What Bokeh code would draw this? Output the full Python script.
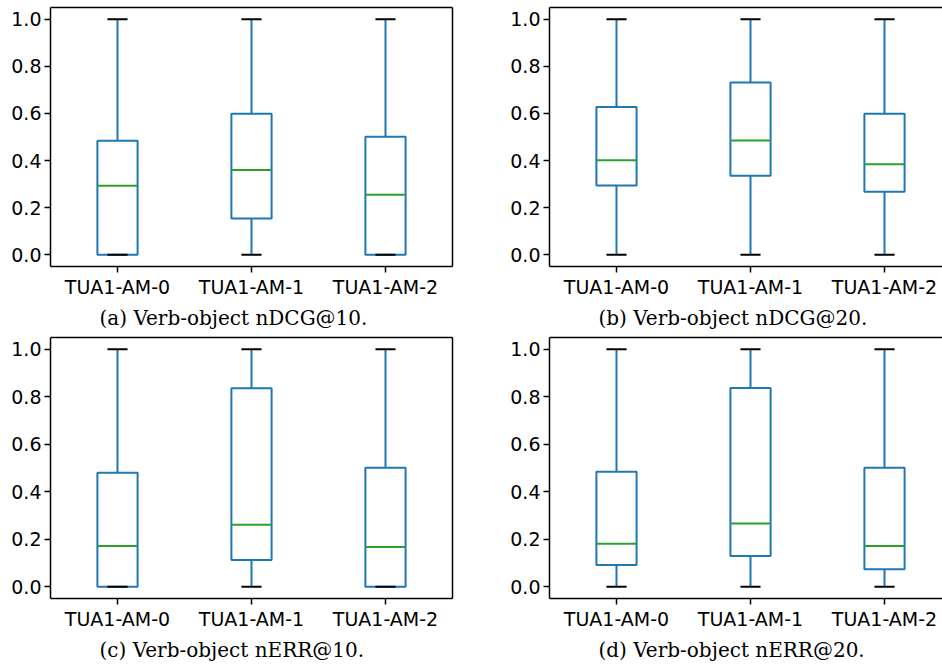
from bokeh.plotting import figure
from bokeh.layouts import gridplot
from bokeh.models import Range1d, FixedTicker, LinearAxis, Title, NumeralTickFormatter
from bokeh.embed import file_html
from bokeh.resources import INLINE

categories = ["TUA1-AM-0", "TUA1-AM-1", "TUA1-AM-2"]
y_ticks = [0.0, 0.2, 0.4, 0.6, 0.8, 1.0]

# (a) Verb-object nDCG@10
a_low = [0.0, 0.0, 0.0]
a_q1 = [0.0, 0.154, 0.0]
a_med = [0.293, 0.360, 0.255]
a_q3 = [0.484, 0.599, 0.501]
a_high = [1.0, 1.0, 1.0]

# (b) Verb-object nDCG@20
b_low = [0.0, 0.0, 0.0]
b_q1 = [0.294, 0.335, 0.268]
b_med = [0.401, 0.485, 0.384]
b_q3 = [0.627, 0.731, 0.599]
b_high = [1.0, 1.0, 1.0]

# (c) Verb-object nERR@10
c_low = [0.0, 0.0, 0.0]
c_q1 = [0.0, 0.112, 0.0]
c_med = [0.171, 0.261, 0.167]
c_q3 = [0.480, 0.836, 0.501]
c_high = [1.0, 1.0, 1.0]

# (d) Verb-object nERR@20
d_low = [0.0, 0.0, 0.0]
d_q1 = [0.091, 0.129, 0.073]
d_med = [0.181, 0.266, 0.171]
d_q3 = [0.484, 0.837, 0.501]
d_high = [1.0, 1.0, 1.0]

captions = [
    "(a) Verb-object nDCG@10.",
    "(b) Verb-object nDCG@20.",
    "(c) Verb-object nERR@10.",
    "(d) Verb-object nERR@20.",
]

BLUE = "#1f77b4"
GREEN = "#2ca02c"
BOX_W = 0.3
CAP_W = 0.15
TICK_FONT = "DejaVu Sans"
CAP_FONT = "DejaVu Serif"


def hidden_axis():
    ax = LinearAxis(ticker=FixedTicker(ticks=[]))
    ax.major_label_text_font_size = "0px"
    ax.major_tick_in = 0
    ax.major_tick_out = 0
    ax.minor_tick_line_color = None
    ax.major_label_standoff = 0
    ax.axis_line_color = "black"
    ax.axis_line_width = 1.5
    return ax


def panel(caption, low, q1, med, q3, high, width, height, mbl, mbr, mbt, mbb,
          x_end, cap_offset, right_border):
    xs = list(range(1, len(categories) + 1))
    p = figure(width=width, height=height, x_range=Range1d(0.5, x_end),
               y_range=Range1d(-0.05, 1.05), output_backend="svg",
               toolbar_location=None, min_border_left=mbl, min_border_right=mbr,
               min_border_top=mbt, min_border_bottom=mbb)
    p.outline_line_color = None
    p.grid.visible = False
    p.background_fill_color = "white"
    p.border_fill_color = "white"

    # boxes
    p.quad(left=[x - BOX_W / 2 for x in xs], right=[x + BOX_W / 2 for x in xs],
           bottom=q1, top=q3, fill_color=None, line_color=BLUE, line_width=2)
    # whiskers
    p.segment(x0=xs, y0=q3, x1=xs, y1=high, line_color=BLUE, line_width=2)
    p.segment(x0=xs, y0=q1, x1=xs, y1=low, line_color=BLUE, line_width=2)
    # caps
    p.segment(x0=[x - CAP_W / 2 for x in xs], y0=high, x1=[x + CAP_W / 2 for x in xs],
              y1=high, line_color="black", line_width=2)
    p.segment(x0=[x - CAP_W / 2 for x in xs], y0=low, x1=[x + CAP_W / 2 for x in xs],
              y1=low, line_color="black", line_width=2)
    # medians
    p.segment(x0=[x - BOX_W / 2 for x in xs], y0=med, x1=[x + BOX_W / 2 for x in xs],
              y1=med, line_color=GREEN, line_width=2)

    for ax in (p.xaxis[0], p.yaxis[0]):
        ax.axis_line_color = "black"
        ax.axis_line_width = 1.5
        ax.major_tick_line_color = "black"
        ax.major_tick_line_width = 1.5
        ax.major_tick_in = 0
        ax.major_tick_out = 6
        ax.minor_tick_line_color = None
        ax.major_label_text_font = TICK_FONT
        ax.major_label_text_font_size = "19px"
        ax.major_label_text_color = "black"
        ax.major_label_standoff = 3

    p.xaxis.ticker = FixedTicker(ticks=xs)
    p.xaxis.major_label_overrides = {x: c for x, c in zip(xs, categories)}
    p.yaxis.ticker = FixedTicker(ticks=y_ticks)
    p.yaxis.formatter = NumeralTickFormatter(format="0.0")

    p.add_layout(hidden_axis(), "above")
    if right_border:
        p.add_layout(hidden_axis(), "right")

    p.add_layout(Title(text=caption, align="left", text_font=CAP_FONT,
                       text_font_size="20px", text_font_style="normal",
                       text_color="black", offset=cap_offset, standoff=6), "below")
    return p


FRAME_H = 261
LEFT_W, RIGHT_W = 470, 472
TOP_H, BOT_H = 332, 332
L_MBL, L_FRAME_W = 50, 402
R_MBL = 79
R_FRAME_W = RIGHT_W - R_MBL
PX_PER_UNIT = L_FRAME_W / 3.0
left_end = 3.5
right_end = 0.5 + R_FRAME_W / PX_PER_UNIT

pa = panel(captions[0], a_low, a_q1, a_med, a_q3, a_high, LEFT_W, TOP_H,
           L_MBL, LEFT_W - L_MBL - L_FRAME_W, 7, TOP_H - 7 - FRAME_H, left_end, 49, True)
pb = panel(captions[1], b_low, b_q1, b_med, b_q3, b_high, RIGHT_W, TOP_H,
           R_MBL, 0, 7, TOP_H - 7 - FRAME_H, right_end, 49, False)
pc = panel(captions[2], c_low, c_q1, c_med, c_q3, c_high, LEFT_W, BOT_H,
           L_MBL, LEFT_W - L_MBL - L_FRAME_W, 5, BOT_H - 5 - FRAME_H, left_end, 49, True)
pd = panel(captions[3], d_low, d_q1, d_med, d_q3, d_high, RIGHT_W, BOT_H,
           R_MBL, 0, 5, BOT_H - 5 - FRAME_H, right_end, 49, False)

grid = gridplot([[pa, pb], [pc, pd]], toolbar_location=None)

open("out.html", "w").write(file_html(grid, INLINE))
